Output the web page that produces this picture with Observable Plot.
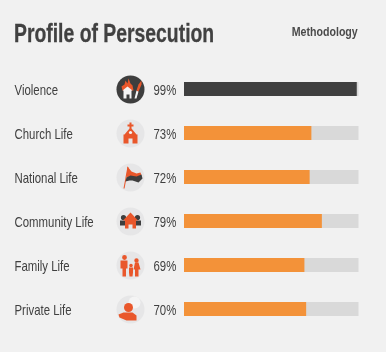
<!DOCTYPE html>
<html><head><meta charset="utf-8">
<script src="https://cdn.jsdelivr.net/npm/d3@7"></script>
<script src="https://cdn.jsdelivr.net/npm/@observablehq/plot@0.6"></script>
<style>
html,body{margin:0;padding:0;background:#f1f1f1;width:386px;height:352px;overflow:hidden}
#wrap{filter:blur(0.35px);background:#f1f1f1;width:386px;height:352px}
#head{position:relative;height:64px;font-family:"Liberation Sans",sans-serif;color:#414141}
#title{position:absolute;left:14px;top:17px;font-size:26px;font-weight:700;line-height:32px;white-space:nowrap;transform:scaleX(.745);transform-origin:left center;-webkit-text-stroke:0.3px #414141}
#meth{position:absolute;right:28px;top:24px;font-size:12.5px;font-weight:700;line-height:16px;color:#4a4a4a;transform:scaleX(.85);transform-origin:right center}
svg{display:block;background:transparent}
</style></head><body>
<div id="wrap">
<div id="head"><div id="title">Profile of Persecution</div><div id="meth">Methodology</div></div>
<div id="chart"></div>
</div>
<script>
const categories = ["Violence","Church Life","National Life","Community Life","Family Life","Private Life"];
const scores = [99,73,72,79,69,70];
const rows = categories.map((name,i)=>({name,score:scores[i]}));

const poly = (...pts)=>({draw(c){pts.forEach((p,i)=>i?c.lineTo(p[0],p[1]):c.moveTo(p[0],p[1]));c.closePath();}});
const blobs = (...cs)=>({draw(c){cs.forEach(([x,y,r])=>{c.moveTo(x+r,y);c.arc(x,y,r,0,2*Math.PI);});}});
const ORANGE="#e9572b", DARK="#3e3e3e", WHITE="#f4f4f4", DISC="#e6e6e7";
const icons = [
 ["Violence",DARK,[
  [ORANGE,poly([-8,1],[-9,-3],[-6,-5],[-5,-9],[-3,-6],[-2,-11],[0,-6],[2,-4],[3,1])],
  [WHITE,poly([-8,1],[-3,-3],[2,1],[1,1],[1,9],[-1,9],[-1,5],[-4,5],[-4,9],[-7,9],[-7,1])],
  [WHITE,poly([4,9],[6,9],[8,2],[6,1])],
  [ORANGE,poly([6,1],[8,2],[11,-5],[11,-9],[8,-5])]
 ]],
 ["Church Life",DISC,[
  [ORANGE,poly([-1,-11],[1,-11],[1,-9],[3,-9],[3,-7],[1,-7],[1,-5],[6,1],[7,1],[7,10],[2,10],[2,5],[-2,5],[-2,10],[-7,10],[-7,1],[-6,1],[-1,-5],[-1,-7],[-3,-7],[-3,-9],[-1,-9])],
  [WHITE,blobs([0,-1,1.6])]
 ]],
 ["National Life",DISC,[
  [ORANGE,poly([-7,11],[-6,11],[-2,-10],[-3,-11])],
  [ORANGE,poly([-3,-11],[1,-6],[6,-4],[10,-5],[11,-2],[6,0],[0,-1],[-4,0])],
  [DARK,poly([-4,0],[0,-2],[6,-1],[11,-3],[12,1],[8,5],[2,3],[-1,3],[-5,4])]
 ]],
 ["Community Life",DISC,[
  [DARK,blobs([-7,-4,2.6],[7,-4,2.6])],
  [DARK,poly([-10.5,4],[-10.5,-1],[-4,-1],[-4,4])],
  [DARK,poly([4,4],[4,-1],[10.5,-1],[10.5,4])],
  [ORANGE,poly([0,-9],[7.5,-1],[5.5,-1],[5.5,7],[2,7],[2,3],[-2,3],[-2,7],[-5.5,7],[-5.5,-1],[-7.5,-1])]
 ]],
 ["Family Life",DISC,[
  [ORANGE,blobs([-6,-8,2.4],[6,-5,2.2],[0.5,0,1.8])],
  [ORANGE,poly([-10,-5],[-3,-5],[-3,3],[-4.5,3],[-4.5,11],[-8,11],[-8,3],[-10,3])],
  [ORANGE,poly([4.5,-3],[8,-3],[10,4],[8,4],[8,11],[4.5,11],[4.5,4],[3,4])],
  [ORANGE,poly([-1.5,2],[2.5,2],[2.5,7],[2,11],[-1,11],[-1.5,7])]
 ]],
 ["Private Life",DISC,[
  [WHITE,blobs([4,-7,6])],
  [ORANGE,blobs([-2,-2,4.5])],
  [ORANGE,poly([-12,5],[-7,3],[2,3],[6,6],[6,11],[-4,11],[-11,8])]
 ]]
];
const iconParts = icons.flatMap(([name,disc,parts])=>parts.map(([color,symbol])=>({name,color,symbol})));
const discs = icons.map(([name,disc])=>({name,disc}));
const fontFamily='"Liberation Sans",sans-serif';

const plot = Plot.plot({
  width:386,height:288,
  marginTop:3,marginBottom:21,marginLeft:184,marginRight:27.5,
  style:{background:"transparent",fontFamily},
  x:{domain:[0,100],axis:null},
  y:{domain:categories,axis:null,paddingInner:0.69,paddingOuter:0.345},
  marks:[
    Plot.barX(rows,{y:"name",x1:0,x2:100,fill:"#d9d9d9"}),
    Plot.barX(rows,{y:"name",x1:0,x2:"score",fill:d=>d.name==="Violence"?"#3f3f3f":"#f39239"}),
    Plot.text(rows,{y:"name",frameAnchor:"left",dx:-170,dy:1,text:"name",textAnchor:"start",fontSize:15,fill:"#404040"}),
    Plot.text(rows,{y:"name",frameAnchor:"left",dx:-31,dy:1,text:d=>d.score+"%",textAnchor:"start",fontSize:15,fill:"#404040"}),
    Plot.dot(discs,{y:"name",frameAnchor:"left",dx:-54,r:14,fill:"disc",stroke:null}),
    ...iconParts.map(p=>Plot.dot([p],{y:"name",frameAnchor:"left",dx:-54,r:10,symbol:p.symbol,fill:p.color,stroke:null}))
  ]
});
document.getElementById("chart").append(plot);
plot.querySelectorAll("text").forEach(t=>{
  t.setAttribute("lengthAdjust","spacingAndGlyphs");
  t.setAttribute("textLength",t.getComputedTextLength()*0.76);
});
</script>
</body></html>
